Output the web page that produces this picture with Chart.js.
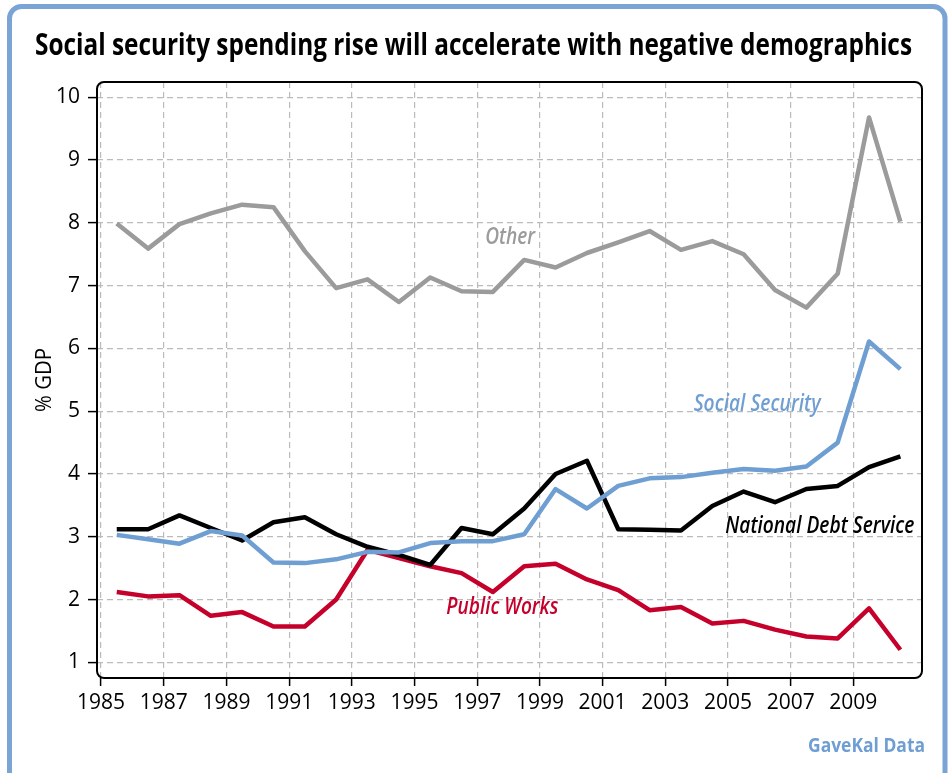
<!DOCTYPE html>
<html>
<head>
<meta charset="utf-8">
<script src="https://cdn.jsdelivr.net/npm/chart.js@4.4.1/dist/chart.umd.min.js"></script>
<style>
  html, body { margin: 0; padding: 0; background: #fff; }
  canvas { display: block; }
</style>
</head>
<body>
<canvas id="chartSpending" width="948" height="773"></canvas>
<script>
// --- Data: government spending by category, % of GDP (mid-year points) ---
const years = [1985.5, 1986.5, 1987.5, 1988.5, 1989.5, 1990.5, 1991.5, 1992.5, 1993.5,
    1994.5, 1995.5, 1996.5, 1997.5, 1998.5, 1999.5, 2000.5, 2001.5, 2002.5, 2003.5,
    2004.5, 2005.5, 2006.5, 2007.5, 2008.5, 2009.5, 2010.5];

const other = [7.99, 7.59, 7.98, 8.15, 8.29, 8.25, 7.55, 6.96, 7.10, 6.74, 7.13, 6.91, 6.90,
    7.41, 7.29, 7.52, 7.69, 7.87, 7.57, 7.71, 7.50, 6.93, 6.65, 7.19, 9.68, 8.02];
const socialSecurity = [3.03, 2.96, 2.89, 3.09, 3.02, 2.59, 2.58, 2.64, 2.76, 2.75, 2.90, 2.93, 2.93,
    3.04, 3.76, 3.45, 3.81, 3.93, 3.95, 4.02, 4.08, 4.05, 4.12, 4.50, 6.11, 5.67];
const debtService = [3.12, 3.12, 3.34, 3.14, 2.94, 3.23, 3.31, 3.04, 2.84, 2.71, 2.55, 3.14, 3.04,
    3.45, 4.00, 4.21, 3.12, 3.11, 3.10, 3.49, 3.72, 3.55, 3.76, 3.81, 4.11, 4.28];
const publicWorks = [2.12, 2.05, 2.07, 1.74, 1.80, 1.57, 1.57, 2.00, 2.79, 2.66, 2.53, 2.42, 2.12,
    2.53, 2.57, 2.32, 2.15, 1.83, 1.88, 1.62, 1.66, 1.52, 1.41, 1.38, 1.86, 1.20];

const xTicks = [1985, 1987, 1989, 1991, 1993, 1995, 1997, 1999, 2001, 2003, 2005, 2007, 2009];
const yTicks = [1, 2, 3, 4, 5, 6, 7, 8, 9, 10];

const chartTitle = 'Social security spending rise will accelerate with negative demographics';
const yAxisTitle = '% GDP';
const sourceText = 'GaveKal Data';

// Series names written next to their lines (anchored in data units, w = max text width)
const seriesLabels = [
    { text: 'Other', x: 1998.05, y: 7.77, w: 50, color: '#9b9b9b' },
    { text: 'Social Security', x: 2005.93, y: 5.10, w: 127, color: '#6f9fd2' },
    { text: 'National Debt Service', x: 2007.93, y: 3.16, w: 189, color: '#000000' },
    { text: 'Public Works', x: 1997.8, y: 1.88, w: 112, color: '#c4002b' }
];

const FONT = "'Open Sans', 'DejaVu Sans Condensed', sans-serif";
const toPoints = (vals) => vals.map((v, i) => ({ x: years[i], y: v }));

// Frame, title, source note, rounded plot box and line labels
const decorPlugin = {
    id: 'decor',
    beforeDraw: (chart) => {
        const { ctx, chartArea: { top, bottom } } = chart;
        ctx.save();
        ctx.strokeStyle = '#7aa3d6';
        ctx.lineWidth = 5;
        ctx.beginPath();
        ctx.roundRect(9.5, 6.5, 935.5, 800, 12);
        ctx.stroke();

        ctx.fillStyle = '#000';
        ctx.textAlign = 'center';
        ctx.textBaseline = 'alphabetic';
        ctx.font = `bold 30px ${FONT}`;
        ctx.fillText(chartTitle, 473.5, 55, 877);

        ctx.font = `21px ${FONT}`;
        ctx.translate(45, (top + bottom) / 2);
        ctx.rotate(-Math.PI / 2);
        ctx.textBaseline = 'middle';
        ctx.fillText(yAxisTitle, 0, 0, 64);
        ctx.restore();

        ctx.save();
        ctx.fillStyle = '#6f9ed3';
        ctx.font = `bold 20px ${FONT}`;
        ctx.textAlign = 'right';
        ctx.fillText(sourceText, 925, 752, 117);
        ctx.restore();
    },
    afterDatasetsDraw: (chart) => {
        const { ctx, chartArea: { left, top, right, bottom }, scales: { x, y } } = chart;
        ctx.save();
        ctx.strokeStyle = '#000';
        ctx.lineWidth = 2;
        ctx.beginPath();
        ctx.roundRect(left, top, right - left, bottom - top, 7);
        ctx.stroke();

        ctx.font = `italic 600 23px ${FONT}`;
        ctx.textAlign = 'center';
        ctx.textBaseline = 'middle';
        seriesLabels.forEach(l => {
            ctx.fillStyle = l.color;
            ctx.fillText(l.text, x.getPixelForValue(l.x), y.getPixelForValue(l.y), l.w);
        });
        ctx.restore();
    }
};

const gridOpts = { color: '#bbbbbb', lineWidth: 1.2, tickColor: '#000', tickWidth: 1.5 };

new Chart(document.getElementById('chartSpending'), {
    type: 'line',
    data: {
        datasets: [
            { data: toPoints(other), borderColor: '#9b9b9b' },
            { data: toPoints(socialSecurity), borderColor: '#6f9fd2' },
            { data: toPoints(debtService), borderColor: '#000000' },
            { data: toPoints(publicWorks), borderColor: '#c4002b' }
        ].map(d => Object.assign(d, {
            borderWidth: 4.5, pointRadius: 0, tension: 0, fill: false, borderJoinStyle: 'round'
        }))
    },
    options: {
        responsive: false,
        animation: false,
        layout: { padding: { left: 20, top: 82, right: 26, bottom: 35 } },
        plugins: { legend: { display: false }, tooltip: { enabled: false } },
        scales: {
            x: {
                type: 'linear',
                min: 1984.87, max: 2011.19,
                afterBuildTicks: (s) => { s.ticks = xTicks.map(v => ({ value: v })); },
                afterFit: (s) => { s.height = 60; },
                grid: { ...gridOpts, tickLength: 8 },
                border: { display: false, dash: [6, 4] },
                ticks: {
                    color: '#000', padding: 4, maxRotation: 0, autoSkip: false,
                    font: { family: FONT, size: 21 },
                    callback: (v) => String(v)
                }
            },
            y: {
                min: 0.75, max: 10.244,
                afterBuildTicks: (s) => { s.ticks = yTicks.map(v => ({ value: v })); },
                afterFit: (s) => { s.width = 77; },
                grid: { ...gridOpts, tickLength: 9 },
                border: { display: false, dash: [6, 4] },
                ticks: {
                    color: '#000', padding: 8,
                    font: { family: FONT, size: 21 },
                    callback: (v) => String(v)
                }
            }
        }
    },
    plugins: [decorPlugin]
});
</script>
</body>
</html>
